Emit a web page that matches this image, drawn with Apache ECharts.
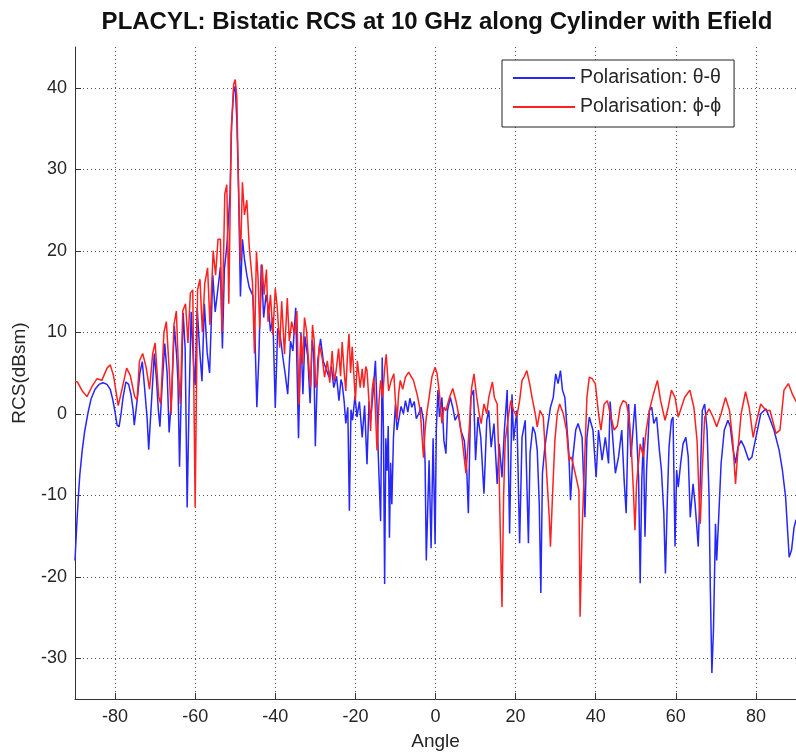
<!DOCTYPE html>
<html>
<head>
<meta charset="utf-8">
<title>PLACYL bistatic RCS</title>
<script src="https://cdn.jsdelivr.net/npm/echarts@6/dist/echarts.min.js"></script>
<style>
  html, body { margin: 0; padding: 0; background: #fff; }
  #chart { width: 796px; height: 756px; }
</style>
</head>
<body>
<div id="chart"></div>
<script>
// values (angle in degrees, RCS in dBsm)
const thetaAngle = [
  -90, -89.6, -89.2, -88.8, -88.2, -87.6, -86.8, -86, -85, -84,
  -83, -82, -81.2, -80.6, -80, -79.5, -79, -78.5, -78, -77.3,
  -76.6, -76, -75.5, -75.2, -74.8, -74.4, -73.8, -73.2, -72.6, -72,
  -71.6, -71.2, -70.6, -70.2, -69.7, -69.2, -68.8, -68.3, -67.6, -67,
  -66.5, -65.9, -65.2, -64.6, -64.3, -63.9, -63.5, -63, -62.5, -62,
  -61.5, -61, -60.4, -60, -59.5, -58.9, -58.3, -57.7, -57, -56.4,
  -55.6, -55, -54.4, -53.7, -53.2, -52.7, -52.1, -51.3, -50.9, -50.4,
  -50, -49.6, -49.2, -48.7, -48.2, -47.7, -47.1, -46.5, -45.6, -45.1,
  -44.6, -44.1, -43.5, -42.9, -42.3, -41.7, -41.2, -40.6, -40, -39.4,
  -38.8, -38.1, -37.5, -36.9, -36.2, -35.6, -34.9, -34.2, -33.6, -33.1,
  -32.6, -31.9, -31.3, -30.8, -30.4, -30, -29.4, -28.7, -28, -27.3,
  -26.6, -26, -25.4, -24.7, -24.1, -23.6, -23.3, -22.8, -22.4, -21.9,
  -21.5, -21.1, -20.7, -20.1, -19.6, -19, -18.3, -17.7, -17.1, -16.6,
  -16.2, -15.6, -15, -14.6, -14.3, -13.7, -13.3, -13, -12.7, -12.4,
  -12.1, -11.8, -11.5, -11.2, -10.9, -10.5, -10, -9.6, -9.2, -8.6,
  -8, -7.5, -6.9, -6.4, -5.9, -5.3, -4.8, -4.2, -3.6, -3,
  -2.6, -2.3, -1.6, -1.1, -0.6, -0.1, 0.2, 0.6, 1, 1.6,
  2.1, 2.6, 3, 3.7, 4.3, 4.9, 5.7, 6.3, 7.2, 7.8,
  8.2, 8.8, 9.5, 10, 10.6, 11.3, 12.1, 12.8, 13.3, 13.9,
  14.6, 15.4, 15.9, 16.6, 17.2, 17.9, 18.5, 19.1, 19.5, 20.3,
  21, 21.6, 22.4, 23.2, 23.6, 24.3, 24.9, 25.4, 25.9, 26.3,
  26.7, 27.3, 28.1, 28.7, 29.4, 30, 30.6, 31.2, 31.7, 32.3,
  32.8, 33.3, 33.7, 34.3, 35, 35.6, 36.6, 37.3, 37.8, 38.4,
  39.3, 40.1, 40.7, 41.6, 42.4, 43.2, 43.6, 44.1, 44.9, 45.7,
  46.5, 47.1, 47.6, 48.2, 48.8, 49.3, 49.8, 50.2, 50.7, 51.1,
  51.5, 51.9, 52.3, 52.7, 53.4, 54, 54.5, 55.2, 55.9, 56.4,
  57, 57.4, 57.9, 58.3, 58.9, 59.3, 59.8, 60.2, 60.6, 61.2,
  61.8, 62.5, 63.1, 63.6, 64.3, 64.8, 65.3, 65.6, 66.1, 66.6,
  67.2, 67.8, 68.3, 68.6, 69, 69.4, 69.9, 70.2, 70.7, 71.3,
  72.1, 73, 73.6, 74.2, 74.9, 75.5, 76.3, 77.1, 78.2, 79,
  80, 81.2, 82.5, 83.3, 84.5, 85.8, 86.6, 87.4, 88.3, 88.9,
  89.5, 90
];
const thetaRcs = [
  -18, -14, -10.5, -7.5, -4.5, -2.2, 0, 1.8, 3, 3.6,
  3.8, 3.6, 3, 1.8, 0.2, -1.4, -1.6, 0, 2, 3.9,
  3.6, 2.3, 0.5, -1.4, -1.3, 2, 5, 6.4, 3, -0.5,
  -4.4, -1, 4, 7.4, 4.5, 0.5, -1.6, 3, 8.6, 5,
  -2.3, 2, 10.8, 7, 4, -6.5, 2, 12.4, 8, -11.5,
  2, 12.5, 6, 3.5, 13, 8, 4, 13.5, 7.5, 5,
  17, 12.5, 15, 18, 8, 17.8, 20.5, 27, 35.5, 39.5,
  40.2, 36, 28.4, 14.4, 21.4, 19, 17, 15.5, 14.5, 10,
  0.8, 7, 18.3, 11.8, 14.6, 13, 10.1, 11.8, 0.7, 10.5,
  9.7, 6.9, 4.8, 2.4, 8.9, 7.7, 13, -3, 10, 2.4,
  9.5, 7, 1.3, 9, 7.5, -4, 6.5, 9.2, 6.4, 5.5,
  4.5, 5.8, 3.2, 4.6, 1.6, 4.2, 3.7, 1.5, -1.2, 0.8,
  -11.9, 0.5, -0.8, 2.2, -0.4, 1.5, -2.9, 1, -6.2, 1.5,
  -0.8, 2.5, 6.5, 1, -4.9, -13.2, 6.9, -2, -20.9, -3,
  -7, -1.5, -15.2, -6, -11.1, -3, 1.2, -2, -0.8, 0.9,
  0, 1.6, 0.2, 1.9, 0.8, 1.5, -0.6, 0, 0.8, -0.8,
  -6, -18, -5.7, -16.5, -3, -16, -2, 2.9, -0.4, 2,
  -3.3, -4.9, 0.4, 2, 0.8, -0.8, 0, -2, -3.3, -6.9,
  -12.2, 2, 2.9, -5.7, -0.4, -2.9, -9.8, -0.8, 0.4, -4.1,
  -1.2, -8.6, -3.7, -7.8, -2, 2.9, -14.7, 2.4, -3.3, 0.4,
  -15.9, -2.9, -0.8, -15.9, -4.9, -1.6, -2.4, -4.5, -11, -22,
  -7.3, -4.1, -1.2, 0.8, 2, 4.9, 3.7, 5.3, 2.9, 2,
  -1.6, -4.9, -10.6, -5.3, -2, -1.2, -2.9, -12.7, -2.9, -0.4,
  -2, -7.8, -2, -5.7, -2.9, -6.1, 1.5, -2, -7.3, -5.3,
  -2, -8.2, -12.2, 1.2, -5.3, -2, 1.2, -2.4, -7.8, -20.8,
  -8.2, -2.9, -15.1, -6.9, 0.4, 0.8, -1.2, -0.4, -4.5, -6.9,
  -12.2, -19.6, -10.2, -4.1, -0.8, -0.4, -16.3, -6.9, -9, -6.1,
  -3.7, -2.9, -5.3, -12.7, -8.6, -11, -14.3, -16.3, -8.2, 0.4,
  1.2, -2, -10.2, -21.2, -31.8, -26.5, -13.5, -18, -12.7, -6.1,
  -2, -0.8, -1.6, -4.1, -6.1, -4.1, -3.3, -4.1, -5.7, -5.3,
  -2.9, 0, 0.6, -0.4, -2, -4.5, -6.9, -10.2, -17.6, -16.7,
  -14, -13
];

const phiAngle = [
  -90, -89.4, -88.2, -87, -85.7, -84.5, -83.3, -82, -81.2, -80.4,
  -79.2, -78.1, -77.1, -76.2, -75.1, -74.5, -73.9, -73.1, -72.2, -71.4,
  -70.6, -70, -69.1, -68.6, -67.8, -67.2, -66.5, -66, -65.3, -64.7,
  -64.1, -63.7, -63.1, -62.4, -61.8, -61.2, -60.6, -60, -59.4, -58.8,
  -58.2, -57.6, -56.9, -56.3, -55.5, -54.9, -54.3, -53.7, -53.3, -52.6,
  -52.1, -51.6, -51, -50.4, -50, -49.6, -49.2, -48.7, -48.2, -47.7,
  -47.1, -46.5, -45.7, -45.2, -44.7, -44.3, -43.9, -43.3, -42.8, -42.2,
  -41.8, -41.2, -40.6, -40, -39.5, -38.9, -38.4, -37.7, -37, -36.5,
  -35.9, -35.2, -34.6, -34.1, -33.6, -33.2, -32.7, -32.2, -31.7, -31.2,
  -30.7, -30.3, -29.9, -29.5, -29, -28.3, -27.7, -27, -26.4, -25.8,
  -25.3, -24.8, -24.2, -23.7, -23.3, -22.8, -22.4, -22, -21.6, -21.2,
  -20.8, -20.4, -20, -19.5, -18.8, -18.3, -17.9, -17.4, -17.1, -16.6,
  -16.2, -15.8, -15.4, -15, -14.6, -14.1, -13.7, -13.2, -12.7, -12.3,
  -11.7, -11.1, -10.4, -10, -9.6, -9.2, -8.8, -8.2, -7.5, -6.7,
  -6.1, -5.5, -4.6, -3.8, -3.4, -3, -2.6, -2.2, -1.6, -0.9,
  -0.1, 0.4, 1, 1.6, 2.1, 2.6, 3.5, 4.3, 5.1, 5.9,
  6.7, 7.6, 8.4, 9, 9.6, 10.3, 10.9, 11.4, 12.1, 12.8,
  13.3, 14.2, 14.7, 15.4, 15.8, 16.2, 16.6, 17, 17.4, 18.3,
  18.8, 19.5, 20.3, 21, 21.6, 22.1, 22.8, 23.5, 24.1, 24.9,
  25.4, 26.1, 26.9, 27.7, 28.4, 28.7, 29.2, 29.8, 30.4, 31,
  31.9, 32.7, 33.3, 33.9, 34.5, 35.1, 35.8, 36.1, 36.6, 37.2,
  37.8, 38.4, 39.1, 39.9, 40.7, 41.3, 42.1, 42.9, 43.8, 44.6,
  45.4, 46.1, 46.8, 47.6, 48.2, 48.8, 49.4, 49.8, 50.2, 51.1,
  51.9, 52.6, 53.4, 54.4, 55.4, 56.2, 57.3, 58.1, 58.9, 59.8,
  60.6, 61.4, 62.2, 63.5, 64.5, 65.3, 65.8, 66.1, 66.6, 67.2,
  68.3, 69.3, 70.2, 71.3, 72.4, 73.4, 74.2, 74.9, 75.5, 76.3,
  77.4, 78.3, 79.3, 80.2, 81.2, 82.5, 83.5, 85, 86, 87,
  88.1, 89.1, 90
];
const phiRcs = [
  4, 3.9, 2.8, 2.1, 3.4, 4.3, 4.1, 5.6, 6, 4.7,
  1, 3.4, 5.6, 4.7, 2.1, 1.7, 6.5, 7.4, 5.6, 3,
  7.4, 8.7, 2.1, 1.2, 10, 11.3, 5.6, 0, 10.9, 12.6,
  4.7, 1.2, 12.6, 13.5, 8.7, 14.8, 15.2, -11.5, 15.2, 16.5,
  10, 16, 17.9, 10.9, 20, 17, 21.4, 21.4, 10, 27,
  28.1, 13.5, 34.5, 40.4, 41, 38.9, 28.4, 18.7, 28.4, 24.4,
  26.2, 20.5, 16.1, 7.4, 19.9, 16.7, 10.5, 18.3, 14.6, 17.7,
  11.3, 14.6, 9.7, 15.4, 13, 8.1, 13.8, 7.3, 14.2, 8.9,
  11.3, 9.7, 12.6, 1.1, 9.7, 6.1, 11.8, 10.2, 6.4, 3.2,
  10.9, 9, 3.2, 4.1, 8.5, 6.9, 4.5, 6.5, 3.8, 7.7,
  4, 5.3, 8, 4.6, 8.8, 5.2, 2.8, 7, 9.8, 5,
  8.2, 5, 1.6, 6.5, 3.2, 5.5, 3.2, 5.8, 5.3, 1.5,
  -2.1, 3, 4.5, 0.5, -4.5, 1.5, 4.1, 2, 5.5, 7.3,
  2.8, 4, 4.9, 1.5, -0.8, 2.5, 4.1, 3, 4.5, 5.1,
  4.6, 4.1, 2.4, 0.4, -2.5, -5.4, -2, 0, 2, 4.5,
  5.7, 4.9, 2.4, -1.2, 0.8, 0.4, 2, 3.1, 1.6, -0.4,
  -3.3, -7.3, -2, 3.1, 4.9, 2, 0, -1.2, 1.2, 0,
  2, 3.9, 2, 1.2, -5.3, -15.1, -23.7, -10.2, -3.3, 0,
  1.6, 0.4, -0.4, 1.6, 4.1, 4.5, 5.3, 3.7, 2, 0,
  -1.6, 0.4, -0.4, -6.9, -12.7, -16.3, -10.2, -3.3, 0, 1.2,
  0, -2, -5.7, -5.3, -6.5, -7.8, -9.4, -24.9, -14.3, -6.1,
  2, 4.5, 4.3, 3.7, 0, -2, 1.2, 1.6, -0.4, -2,
  -1.5, 0.8, 1.6, 1.4, 0, -3.3, -9.4, -14.3, -8.6, -3.7,
  -5.3, -2, 0.4, 2.4, 4.1, 1.6, -0.8, 0.8, 2.9, 2,
  -0.4, 0.8, 2, 2.9, 0.8, -3.3, -10.2, -13.5, -6.9, -0.4,
  0.6, -0.4, -1.6, 0, 2, 0.4, -3.3, -8.6, -4.5, 0,
  2.7, 0.8, -2.9, -0.8, 1.2, 0.4, 0.4, -2.4, -2, 2.9,
  3.7, 2.4, 1.5
];

const titleText = 'PLACYL: Bistatic RCS at 10 GHz along Cylinder with Efield';
const legendNames = ['Polarisation: \u03b8-\u03b8', 'Polarisation: \u03d5-\u03d5'];

function pairs(xs, ys) {
  return xs.map((x, i) => [x, ys[i]]);
}

const FONT = '"Liberation Sans", Arial, Helvetica, sans-serif';
const INK = '#262626';
const gridLine = { show: true, showMinLine: false, showMaxLine: false, lineStyle: { color: '#555', type: [1, 3], width: 1 } };

const chart = echarts.init(document.getElementById('chart'));
chart.setOption({
  animation: false,
  backgroundColor: '#fff',
  graphic: [{
    type: 'text',
    x: 437,
    y: 22,
    style: {
      text: titleText,
      fill: '#111',
      fontFamily: FONT,
      fontSize: 24,
      fontWeight: 'bold',
      textAlign: 'center',
      textVerticalAlign: 'middle'
    }
  }],
  grid: { left: 75, right: -3, top: 47, bottom: 57, containLabel: false },
  legend: {
    orient: 'vertical',
    left: 502,
    top: 60,
    padding: [8, 13, 10, 11],
    itemGap: 9,
    itemWidth: 62,
    itemHeight: 2,
    icon: 'rect',
    borderColor: '#222',
    borderWidth: 1,
    backgroundColor: '#fff',
    textStyle: { fontFamily: FONT, fontSize: 19.5, color: INK, lineHeight: 20 },
    data: legendNames
  },
  xAxis: {
    type: 'value',
    min: -90,
    max: 90,
    splitNumber: 9,
    name: 'Angle',
    nameLocation: 'middle',
    nameGap: 33,
    nameTextStyle: { fontFamily: FONT, fontSize: 19, color: INK },
    axisLine: { onZero: false, lineStyle: { color: '#333', width: 1 } },
    axisTick: { inside: true, length: 6, lineStyle: { color: '#333' } },
    axisLabel: { showMinLabel: false, showMaxLabel: false, margin: 9, fontFamily: FONT, fontSize: 18, color: INK },
    splitLine: gridLine
  },
  yAxis: {
    type: 'value',
    min: -35,
    max: 45,
    splitNumber: 8,
    name: 'RCS(dBsm)',
    nameLocation: 'middle',
    nameGap: 46,
    nameRotate: 90,
    nameTextStyle: { fontFamily: FONT, fontSize: 19, color: INK },
    axisLine: { show: true, onZero: false, lineStyle: { color: '#333', width: 1 } },
    axisTick: { show: true, inside: true, length: 6, lineStyle: { color: '#333' } },
    axisLabel: { showMinLabel: false, showMaxLabel: false, margin: 8, fontFamily: FONT, fontSize: 18, color: INK },
    splitLine: gridLine
  },
  series: [{
    name: legendNames[0],
    type: 'line',
    data: pairs(thetaAngle, thetaRcs),
    showSymbol: false,
    color: '#2626ff',
    lineStyle: { width: 1.5, color: '#2626ff' },
    z: 2
  }, {
    name: legendNames[1],
    type: 'line',
    data: pairs(phiAngle, phiRcs),
    showSymbol: false,
    color: '#ff2020',
    lineStyle: { width: 1.5, color: '#ff2020' },
    z: 3
  }]
});
</script>
</body>
</html>
